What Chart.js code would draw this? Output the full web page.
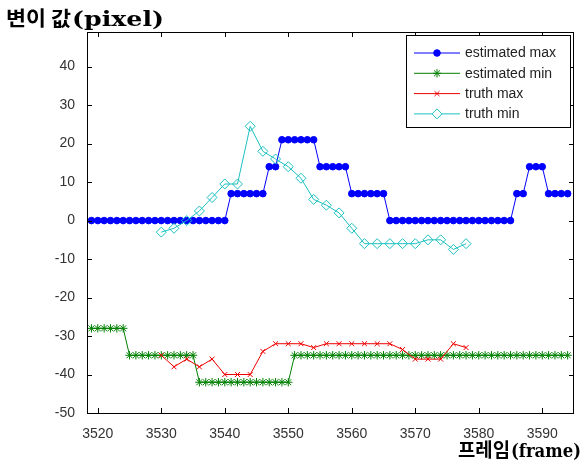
<!DOCTYPE html>
<html><head><meta charset="utf-8">
<script src="https://cdn.jsdelivr.net/npm/chart.js@4"></script>
<style>html,body{margin:0;padding:0;background:#fff;}#wrap{width:584px;height:463px;position:relative}</style>
</head><body><div id="wrap"><canvas id="c" width="584" height="463"></canvas></div>
<script>
// ---- data ----
const estFrames = [3519,3520,3521,3522,3523,3524,3525,3526,3527,3528,3529,3530,3531,3532,3533,3534,3535,3536,3537,3538,3539,3540,
  3541,3542,3543,3544,3545,3546,3547,3548,3549,3550,3551,3552,3553,3554,3555,3556,3557,3558,3559,3560,3561,3562,3563,3564,3565,
  3566,3567,3568,3569,3570,3571,3572,3573,3574,3575,3576,3577,3578,3579,3580,3581,3582,3583,3584,3585,3586,3587,3588,3589,3590,
  3591,3592,3593,3594];
const estimatedMax = [0,0,0,0,0,0,0,0,0,0,0,0,0,0,0,0,0,0,0,0,0,0,
  7,7,7,7,7,7,14,14,21,21,21,21,21,21,14,14,14,14,14,7,7,7,7,7,7,
  0,0,0,0,0,0,0,0,0,0,0,0,0,0,0,0,0,0,0,0,7,7,14,14,14,
  7,7,7,7];
const estimatedMin = [-28,-28,-28,-28,-28,-28,-35,-35,-35,-35,-35,-35,-35,-35,-35,-35,-35,-42,-42,-42,-42,-42,
  -42,-42,-42,-42,-42,-42,-42,-42,-42,-42,-35,-35,-35,-35,-35,-35,-35,-35,-35,-35,-35,-35,-35,-35,-35,-35,-35,
  -35,-35,-35,-35,-35,-35,-35,-35,-35,-35,-35,-35,-35,-35,-35,-35,-35,-35,-35,-35,-35,-35,-35,-35,-35,
  -35,-35,-35,-35];
const truthFrames = [3530,3532,3534,3536,3538,3540,3542,3544,3546,3548,3550,3552,3554,3556,3558,3560,3562,3564,3566,3568,3570,3572,3574,3576,3578];
const truthMax = [-35,-38,-36,-38,-36,-40,-40,-40,-34,-32,-32,-32,-33,-32,-32,-32,-32,-32,-32,-33.5,-36,-36,-36,-32,-33];
const truthMin = [-3,-2,0,2.5,6,9.5,9.5,24.5,18,16,14,11,5.5,4,2,-2,-6,-6,-6,-6,-6,-5,-5,-7.5,-6];
const xTickValues = [3520,3530,3540,3550,3560,3570,3580,3590];
const yTickValues = [-50,-40,-30,-20,-10,0,10,20,30,40];
const seriesLabels = ['estimated max','estimated min','truth max','truth min'];
const yTitle = ['변이 값','(pixel)'];
const xTitle = ['프레임','(frame)'];

const pts = (xs, ys) => xs.map((x, i) => ({x: x, y: ys[i]}));
const tickFont = {family: "'Liberation Sans Narrow','Liberation Sans',Arial,sans-serif", size: 14};

const datasets = [
  {label: seriesLabels[0], data: pts(estFrames, estimatedMax), borderColor:'#0000ff', backgroundColor:'#0000ff',
   pointStyle:'circle', pointRadius:3.3, pointBorderWidth:1, borderWidth:1, order:4},
  {label: seriesLabels[1], data: pts(estFrames, estimatedMin), borderColor:'#008000', backgroundColor:'#008000',
   pointStyle:'star', pointRadius:4.2, pointBorderWidth:1, borderWidth:1, order:3},
  {label: seriesLabels[2], data: pts(truthFrames, truthMax), borderColor:'#ee0000', backgroundColor:'#ee0000',
   pointStyle:'crossRot', pointRadius:3.5, pointBorderWidth:1, borderWidth:1, order:2},
  {label: seriesLabels[3], data: pts(truthFrames, truthMin), borderColor:'#1cc0c0', backgroundColor:'rgba(0,0,0,0)',
   pointStyle:'rectRot', pointRadius:5, pointBorderWidth:1, borderWidth:1, order:1}
];

function fitText(ctx, text, font, x, y, w) {
  ctx.save();
  ctx.font = font;
  const m = ctx.measureText(text).width;
  ctx.translate(x, y);
  ctx.scale(w / m, 1);
  ctx.fillText(text, 0, 0);
  ctx.restore();
}

const decor = {
  id: 'decor',
  afterDraw(chart) {
    const ctx = chart.ctx, a = chart.chartArea;
    const xs = chart.scales.x, ys = chart.scales.y;
    ctx.save();
    ctx.strokeStyle = '#000'; ctx.lineWidth = 1;
    ctx.strokeRect(Math.round(a.left) + 0.5, Math.round(a.top) + 0.5, Math.round(a.right - a.left) - 1, Math.round(a.bottom - a.top));
    ctx.beginPath();
    xTickValues.forEach(v => {
      const p = Math.round(xs.getPixelForValue(v)) + 0.5;
      ctx.moveTo(p, a.bottom); ctx.lineTo(p, a.bottom - 5);
      ctx.moveTo(p, a.top); ctx.lineTo(p, a.top + 5);
    });
    yTickValues.forEach(v => {
      const p = Math.round(ys.getPixelForValue(v)) + 0.5;
      ctx.moveTo(a.left, p); ctx.lineTo(a.left + 5, p);
      ctx.moveTo(a.right, p); ctx.lineTo(a.right - 5, p);
    });
    ctx.stroke();
    // legend
    const lx = 406.5, ly = 35.5, lw = 164, lh = 92;
    ctx.fillStyle = '#fff'; ctx.fillRect(lx, ly, lw, lh);
    ctx.strokeRect(lx, ly, lw, lh);
    ctx.font = "14px 'Liberation Sans',Arial,sans-serif";
    ctx.textBaseline = 'middle'; ctx.textAlign = 'left';
    chart.data.datasets.forEach((ds, i) => {
      const yy = 53 + i * 20.3;
      ctx.strokeStyle = ds.borderColor; ctx.lineWidth = 1;
      ctx.beginPath(); ctx.moveTo(414, yy); ctx.lineTo(460, yy); ctx.stroke();
      ctx.fillStyle = ds.pointStyle === 'rectRot' ? '#fff' : ds.borderColor;
      Chart.helpers.drawPoint(ctx, {pointStyle: ds.pointStyle, radius: ds.pointRadius, borderWidth: 1, rotation: 0}, 437, yy);
      ctx.fillStyle = '#222';
      ctx.fillText(ds.label, 465, yy + 0.5);
    });
    // titles
    ctx.fillStyle = '#000'; ctx.textBaseline = 'alphabetic';
    fitText(ctx, yTitle[0], "bold 20px 'Noto Sans CJK KR'", 6, 26, 65);
    fitText(ctx, yTitle[1], "bold 20px 'DejaVu Serif'", 72, 26, 92);
    fitText(ctx, xTitle[0], "bold 19px 'Noto Sans CJK KR'", 458, 457, 52);
    fitText(ctx, xTitle[1], "bold 19px 'DejaVu Serif'", 511, 457, 70);
    ctx.restore();
  }
};

new Chart(document.getElementById('c'), {
  type: 'line',
  data: {datasets},
  options: {
    responsive: false, animation: false,
    layout: {padding: {top: 32, right: 10, left: 0, bottom: 0}},
    plugins: {legend: {display: false}, tooltip: {enabled: false}},
    elements: {line: {tension: 0}},
    scales: {
      x: {type: 'linear', min: 3518.3, max: 3595,
        grid: {display: false}, border: {display: false},
        ticks: {font: tickFont, color: '#333', padding: 5, maxRotation: 0, autoSkip: false, callback: v => String(v)},
        afterBuildTicks: s => { s.ticks = xTickValues.map(v => ({value: v})); },
        afterFit: s => { s.height = 50; }},
      y: {type: 'linear', min: -50, max: 49,
        grid: {display: false}, border: {display: false},
        ticks: {font: tickFont, color: '#333', padding: 4, autoSkip: false, callback: v => String(v)},
        afterBuildTicks: s => { s.ticks = yTickValues.map(v => ({value: v})); },
        afterFit: s => { s.width = 87; }}
    }
  },
  plugins: [decor]
});
</script></body></html>
